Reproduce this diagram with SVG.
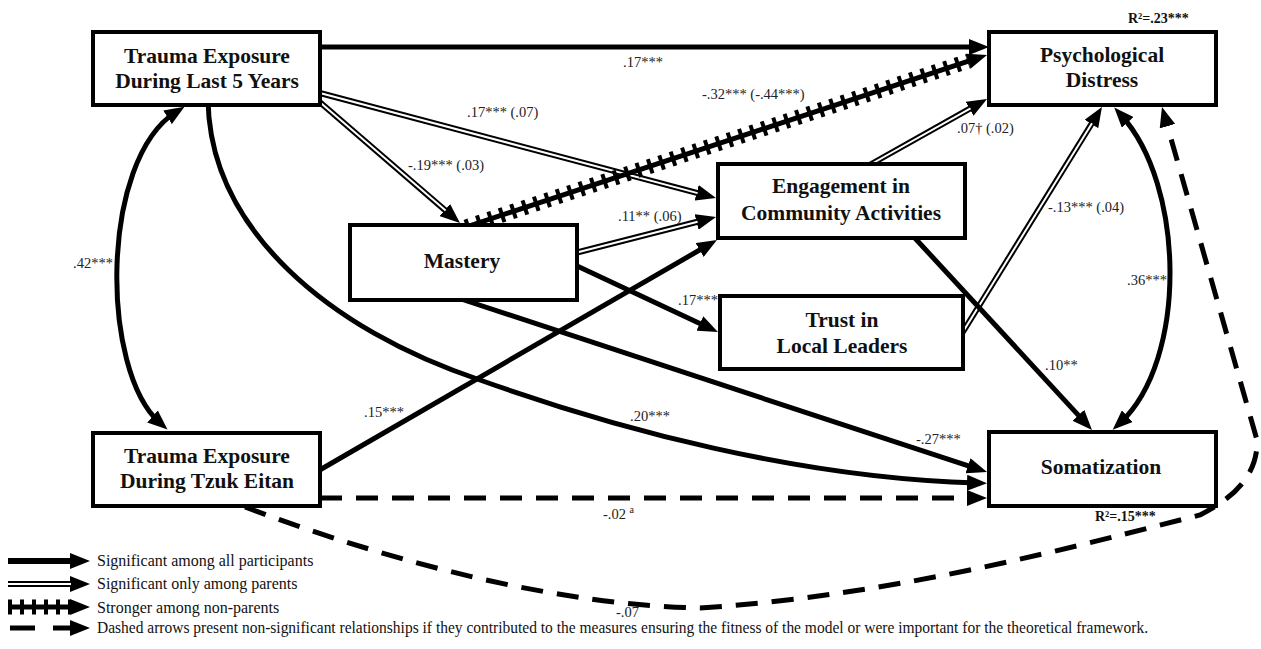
<svg xmlns="http://www.w3.org/2000/svg" width="1261" height="649" viewBox="0 0 1261 649">
<style>
.box{fill:#fff;stroke:#000;stroke-width:4}
.t{font-family:"Liberation Serif","Times New Roman",serif;font-weight:bold;font-size:21.5px;text-anchor:middle;fill:#111}
.r2{font-family:"Liberation Serif","Times New Roman",serif;font-weight:bold;font-size:14px;fill:#111}
.lbl{font-family:"Liberation Serif","Times New Roman",serif;font-size:14.5px;fill:#222}
.leg{font-family:"Liberation Serif","Times New Roman",serif;font-size:16px;fill:#111}
.solid{fill:none;stroke:#000;stroke-width:5}
.dbl{fill:none;stroke:#000;stroke-width:6}
.dblin{fill:none;stroke:#fff;stroke-width:2}
.dash{fill:none;stroke:#000;stroke-width:5;stroke-dasharray:22 14}
.hcore{fill:none;stroke:#000;stroke-width:5}
.hatch{fill:none;stroke:#000;stroke-width:15;stroke-dasharray:4 8}
</style>
<defs>
<marker id="ah" markerUnits="userSpaceOnUse" markerWidth="20" markerHeight="16" refX="10" refY="8" orient="auto-start-reverse" viewBox="0 0 20 16">
<path d="M0,0 L20,8 L0,16 z" fill="#000"/>
</marker>
</defs>
<rect width="1261" height="649" fill="#fff"/>
<g id="connectors">
<path class="solid" d="M318,47 L979,47" marker-end="url(#ah)"/>
<path class="dbl" d="M318,92.5 L706.3,195.4" marker-end="url(#ah)"/>
<path class="dblin" d="M318,92.5 L697.6,193.1"/>
<path class="dbl" d="M315,98 L452.4,216.5" marker-end="url(#ah)"/>
<path class="dblin" d="M315,98 L445.6,210.6"/>
<path class="solid" d="M208,100 C210,230 330,330 480,380 C620,430 800,478 977,483" marker-end="url(#ah)"/>
<path class="hcore" d="M466,227 L977.5,58.1" marker-end="url(#ah)"/>
<path class="hatch" d="M466,227 L968,61.2"/>
<path class="dbl" d="M575,253 L706.3,219.5" marker-end="url(#ah)"/>
<path class="dblin" d="M575,253 L697.6,221.7"/>
<path class="solid" d="M575,265 L708.9,327.8" marker-end="url(#ah)"/>
<path class="solid" d="M458,298 L977.5,468.9" marker-end="url(#ah)"/>
<path class="solid" d="M318,471 L708.3,245" marker-end="url(#ah)"/>
<path class="dash" d="M320,498 L977,498" marker-end="url(#ah)"/>
<path class="dash" d="M245,507 C400,565 560,605 700,608 C900,595 1080,545 1200,515 C1240,495 1258,470 1257,440 L1164.7,116.6" marker-end="url(#ah)"/>
<path class="solid" d="M176,112 C100,160 100,370 160,423" marker-start="url(#ah)" marker-end="url(#ah)"/>
<path class="dbl" d="M866,167 L978.3,103.9" marker-end="url(#ah)"/>
<path class="dblin" d="M866,167 L970.5,108.3"/>
<path class="dbl" d="M961,335 L1096.7,115.5" marker-end="url(#ah)"/>
<path class="dblin" d="M961,335 L1092,123.2"/>
<path class="solid" d="M913,236 L1085.2,422.6" marker-end="url(#ah)"/>
<path class="solid" d="M1121,115 C1185,185 1188,360 1120,423" marker-start="url(#ah)" marker-end="url(#ah)"/>
<text class="lbl" x="623" y="67">.17***</text>
<text class="lbl" x="467" y="117">.17*** (.07)</text>
<text class="lbl" x="408" y="170">-.19*** (.03)</text>
<text class="lbl" x="702" y="99">-.32*** (-.44***)</text>
<text class="lbl" x="618" y="221">.11** (.06)</text>
<text class="lbl" x="957" y="133">.07† (.02)</text>
<text class="lbl" x="1048" y="212">-.13*** (.04)</text>
<text class="lbl" x="678" y="305">.17***</text>
<text class="lbl" x="1045" y="370">.10**</text>
<text class="lbl" x="1127" y="285">.36***</text>
<text class="lbl" x="73" y="268">.42***</text>
<text class="lbl" x="364" y="417">.15***</text>
<text class="lbl" x="630" y="421">.20***</text>
<text class="lbl" x="916" y="444">-.27***</text>
<text class="lbl" x="603" y="519">-.02 <tspan font-size="10" dy="-6">a</tspan></text>
<text class="lbl" x="616" y="617">-.07</text>
</g>
<g id="node-te5">
<rect class="box" x="93" y="32" width="227" height="73"/>
<text class="t" x="207" y="63">Trauma Exposure</text>
<text class="t" x="207" y="88">During Last 5 Years</text>
</g>
<g id="node-pd">
<rect class="box" x="989" y="32" width="227" height="73"/>
<text class="t" x="1102" y="62">Psychological</text>
<text class="t" x="1102" y="87">Distress</text>
<text class="r2" x="1128" y="23">R²=.23***</text>
</g>
<g id="node-eng">
<rect class="box" x="718" y="164" width="247" height="74"/>
<text class="t" x="841" y="193">Engagement in</text>
<text class="t" x="841" y="220">Community Activities</text>
</g>
<g id="node-mastery">
<rect class="box" x="350" y="225" width="227" height="75"/>
<text class="t" x="462" y="268">Mastery</text>
</g>
<g id="node-trust">
<rect class="box" x="720" y="296" width="243" height="73"/>
<text class="t" x="842" y="327">Trust in</text>
<text class="t" x="842" y="353">Local Leaders</text>
</g>
<g id="node-soma">
<rect class="box" x="989" y="432" width="227" height="74"/>
<text class="t" x="1101" y="474">Somatization</text>
<text class="r2" x="1095" y="521">R²=.15***</text>
</g>
<g id="node-tez">
<rect class="box" x="93" y="433" width="227" height="73"/>
<text class="t" x="207" y="463">Trauma Exposure</text>
<text class="t" x="207" y="488">During Tzuk Eitan</text>
</g>
<g id="legend">
<path class="solid" style="stroke-width:6" d="M8,561 L80,561" marker-end="url(#ah)"/>
<text class="leg" x="97" y="566">Significant among all participants</text>
<path class="dbl" d="M8,584 L80,584" marker-end="url(#ah)"/>
<path class="dblin" d="M8,584 L71,584"/>
<text class="leg" x="97" y="589">Significant only among parents</text>
<path class="hcore" d="M8,607 L80,607" marker-end="url(#ah)"/>
<path class="hatch" d="M8,607 L70,607"/>
<text class="leg" x="97" y="613">Stronger among non-parents</text>
<path class="dash" style="stroke-dasharray:25 18" d="M10,628 L80,628" marker-end="url(#ah)"/>
<text class="leg" x="97" y="633" textLength="1051" lengthAdjust="spacingAndGlyphs">Dashed arrows present non-significant relationships if they contributed to the measures ensuring the fitness of the model or were important for the theoretical framework.</text>
</g>
</svg>
